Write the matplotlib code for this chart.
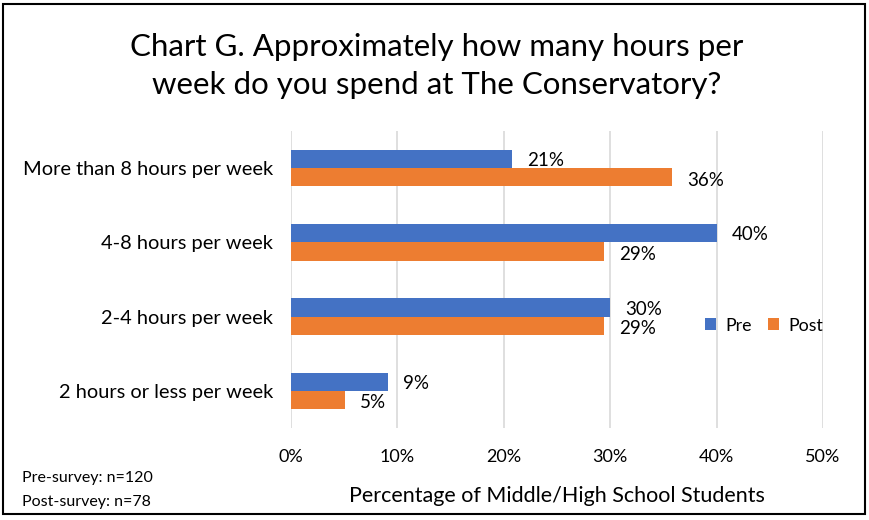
import numpy as np
import matplotlib.pyplot as plt
from matplotlib.patches import Rectangle

plt.rcParams['font.family'] = ['Lato', 'DejaVu Sans']

categories = ['More than 8 hours per week', '4-8 hours per week',
              '2-4 hours per week', '2 hours or less per week']
pre = [20.8, 40.0, 30.0, 9.1]
post = [35.8, 29.4, 29.4, 5.1]
ticks = [0, 10, 20, 30, 40, 50]

blue = '#4472C4'
orange = '#ED7D31'

fig = plt.figure(figsize=(8.7, 5.2), dpi=100)
ax = fig.add_axes([0.3345, 0.177, 0.6115, 0.571])

y = np.arange(len(categories))
h = 0.245
ax.barh(y - h / 2, pre, height=h, color=blue, label='Pre', zorder=3)
ax.barh(y + h / 2, post, height=h, color=orange, label='Post', zorder=3)

for yi, v in zip(y, pre):
    ax.text(v + 1.4, yi - h / 2 + 0.02, f'{v:.0f}%', va='center', ha='left', fontsize=13.5)
for yi, v in zip(y, post):
    ax.text(v + 1.4, yi + h / 2 + 0.04, f'{v:.0f}%', va='center', ha='left', fontsize=13.5)

ax.set_ylim(len(categories) - 0.5, -0.5)
ax.set_yticks(y)
ax.set_yticklabels(categories, fontsize=14.4)
ax.set_xlim(0, 50)
ax.set_xticks(ticks)
ax.set_xticklabels([f'{t}%' for t in ticks], fontsize=13)
ax.tick_params(axis='both', length=0)
ax.tick_params(axis='x', pad=15)
ax.tick_params(axis='y', pad=13)
ax.grid(axis='x', color='#D9D9D9', linewidth=1.2, zorder=0)
for s in ax.spines.values():
    s.set_visible(False)

ax.set_xlabel('Percentage of Middle/High School Students', fontsize=15.5, labelpad=15)

fig.text(0.502, 0.873, 'Chart G. Approximately how many hours per\nweek do you spend at The Conservatory?',
         ha='center', va='center', fontsize=22.5, linespacing=1.4)

ax.legend(loc='center left', bbox_to_anchor=(0.7475, 0.345), ncol=2, frameon=False,
          fontsize=12.8, handlelength=0.65, handleheight=0.65, columnspacing=0.9,
          handletextpad=0.5)

fig.text(0.025, 0.08, 'Pre-survey: n=120', fontsize=11.5, va='center')
fig.text(0.025, 0.035, 'Post-survey: n=78', fontsize=11.5, va='center')

fig.patches.append(Rectangle((0.004, 0.012), 0.99, 0.98, transform=fig.transFigure,
                             fill=False, edgecolor='black', linewidth=1.5))

fig.savefig('out.png', dpi=100)
